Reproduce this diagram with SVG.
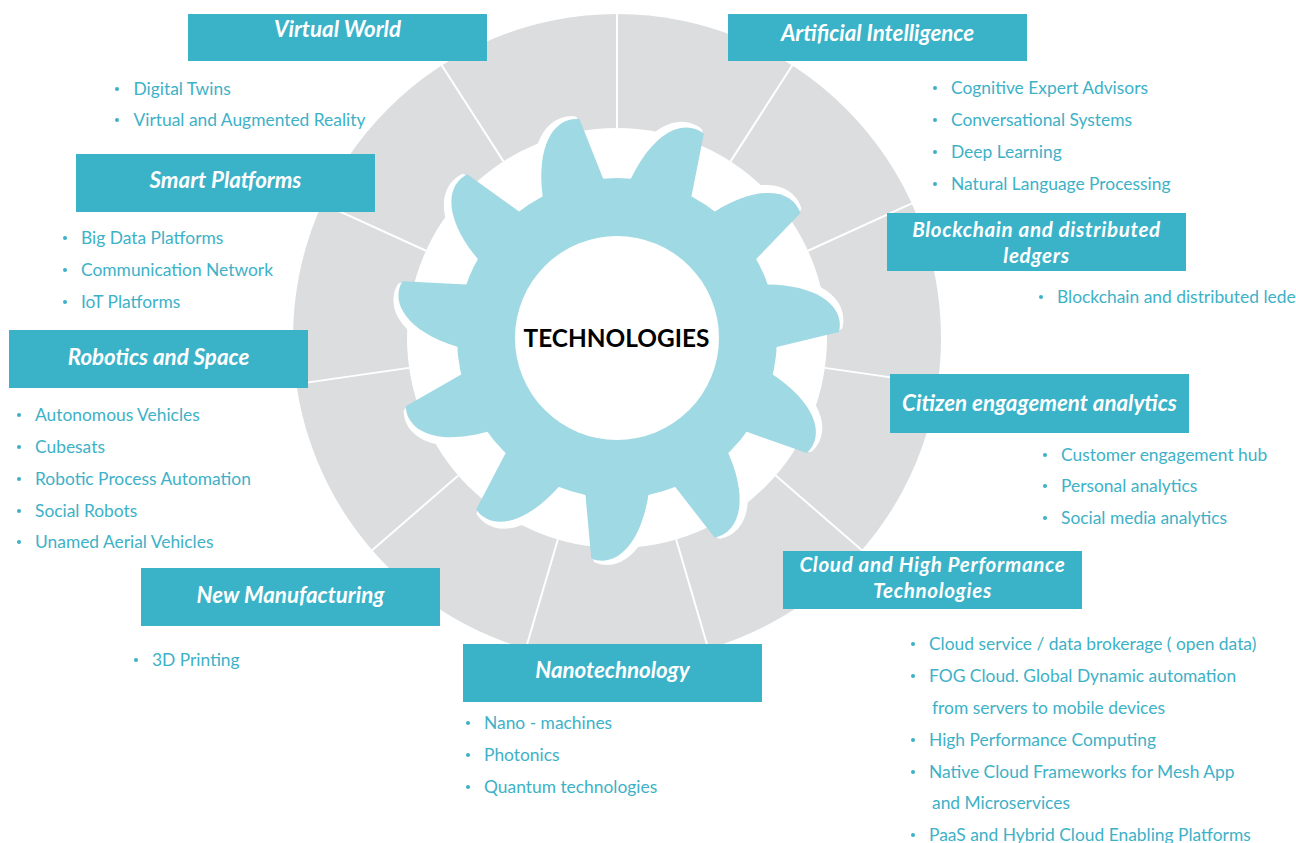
<svg xmlns="http://www.w3.org/2000/svg" xmlns:xlink="http://www.w3.org/1999/xlink" width="1296" height="843" viewBox="0 0 1296 843">
<style>
.box{fill:#3ab3c9}
.ttl{font-family:Lato,"Open Sans","Liberation Sans",sans-serif;font-weight:bold;font-style:italic;font-size:22.3px;fill:#ffffff;text-anchor:middle}
.ttl2{font-size:20.6px;letter-spacing:0.65px}
.itm{font-family:Lato,"Open Sans","Liberation Sans",sans-serif;font-size:17.4px;fill:#3db1c7}
.dot{fill:#3db1c7}
.spoke{stroke:#ffffff;stroke-width:2}
.gear{fill:#9fd9e3}
.halo{fill:#ffffff;stroke:#ffffff;stroke-width:8;stroke-linejoin:round}
</style>
<defs>
<path id="tooth" d="M160,0 C209.2,18.3 224.97,47.82 211.13,68.6 L147.61,61.75 L129.16,54.03 L140,0 Z"/>
<g id="gearShape">
<circle cx="0" cy="0" r="160"/>
<use xlink:href="#tooth" transform="rotate(-117.7)"/>
<use xlink:href="#tooth" transform="rotate(-84.97)"/>
<use xlink:href="#tooth" transform="rotate(-52.25)"/>
<use xlink:href="#tooth" transform="rotate(-19.52)"/>
<use xlink:href="#tooth" transform="rotate(13.21)"/>
<use xlink:href="#tooth" transform="rotate(45.94)"/>
<use xlink:href="#tooth" transform="rotate(78.66)"/>
<use xlink:href="#tooth" transform="rotate(111.39)"/>
<use xlink:href="#tooth" transform="rotate(144.12)"/>
<use xlink:href="#tooth" transform="rotate(176.84)"/>
<use xlink:href="#tooth" transform="rotate(209.57)"/>
</g>
</defs>
<rect width="1296" height="843" fill="#ffffff"/>
<g id="wheel">
<circle cx="617" cy="338" r="324" fill="#dcdddf"/>
<circle cx="617" cy="338" r="210" fill="#ffffff"/>
<g transform="translate(617,338)">
<line class="spoke" x1="210" y1="0" x2="326" y2="0" transform="rotate(-90)"/>
<line class="spoke" x1="210" y1="0" x2="326" y2="0" transform="rotate(-57.27)"/>
<line class="spoke" x1="210" y1="0" x2="326" y2="0" transform="rotate(-24.55)"/>
<line class="spoke" x1="210" y1="0" x2="326" y2="0" transform="rotate(8.18)"/>
<line class="spoke" x1="210" y1="0" x2="326" y2="0" transform="rotate(40.91)"/>
<line class="spoke" x1="210" y1="0" x2="326" y2="0" transform="rotate(73.64)"/>
<line class="spoke" x1="210" y1="0" x2="326" y2="0" transform="rotate(106.36)"/>
<line class="spoke" x1="210" y1="0" x2="326" y2="0" transform="rotate(139.09)"/>
<line class="spoke" x1="210" y1="0" x2="326" y2="0" transform="rotate(171.82)"/>
<line class="spoke" x1="210" y1="0" x2="326" y2="0" transform="rotate(204.55)"/>
<line class="spoke" x1="210" y1="0" x2="326" y2="0" transform="rotate(237.27)"/>
</g>
</g>
<g id="gear">
<use xlink:href="#gearShape" class="halo" transform="translate(617,338) rotate(-1.5)"/>
<use xlink:href="#gearShape" class="gear" transform="translate(617,338)"/>
<circle cx="617" cy="338" r="102" fill="#ffffff"/>
<text x="616.5" y="347" font-family="Lato,'Open Sans','Liberation Sans',sans-serif" font-weight="bold" font-size="24.4" fill="#000000" text-anchor="middle">TECHNOLOGIES</text>
</g>
<g id="connectors"></g>
<g id="virtual-world">
<rect class="box" x="188" y="14" width="299" height="47"/>
<text class="ttl" x="337.5" y="37">Virtual World</text>
<circle class="dot" cx="117" cy="89" r="2"/><text class="itm" x="133.5" y="95">Digital Twins</text>
<circle class="dot" cx="117" cy="120" r="2"/><text class="itm" x="133.5" y="126">Virtual and Augmented Reality</text>
</g>
<g id="artificial-intelligence">
<rect class="box" x="728" y="14" width="299" height="47"/>
<text class="ttl" x="877.5" y="41">Artificial Intelligence</text>
<circle class="dot" cx="935" cy="88" r="2"/><text class="itm" x="951" y="94">Cognitive Expert Advisors</text>
<circle class="dot" cx="935" cy="120" r="2"/><text class="itm" x="951" y="126">Conversational Systems</text>
<circle class="dot" cx="935" cy="152" r="2"/><text class="itm" x="951" y="158">Deep Learning</text>
<circle class="dot" cx="935" cy="184" r="2"/><text class="itm" x="951" y="190">Natural Language Processing</text>
</g>
<g id="smart-platforms">
<rect class="box" x="76" y="154" width="299" height="58"/>
<text class="ttl" x="225.5" y="188">Smart Platforms</text>
<circle class="dot" cx="65" cy="238" r="2"/><text class="itm" x="81" y="244">Big Data Platforms</text>
<circle class="dot" cx="65" cy="270" r="2"/><text class="itm" x="81" y="276">Communication Network</text>
<circle class="dot" cx="65" cy="302" r="2"/><text class="itm" x="81" y="308">IoT Platforms</text>
</g>
<g id="blockchain">
<rect class="box" x="887" y="213" width="299" height="58"/>
<text class="ttl ttl2" x="1036.5" y="237">Blockchain and distributed</text>
<text class="ttl ttl2" x="1036.5" y="262.5">ledgers</text>
<circle class="dot" cx="1041" cy="297" r="2"/><text class="itm" x="1057" y="303">Blockchain and distributed lede</text>
</g>
<g id="robotics-space">
<rect class="box" x="9" y="330" width="299" height="58"/>
<text class="ttl" x="158.5" y="365">Robotics and Space</text>
<circle class="dot" cx="19" cy="415" r="2"/><text class="itm" x="35" y="421">Autonomous Vehicles</text>
<circle class="dot" cx="19" cy="447" r="2"/><text class="itm" x="35" y="453">Cubesats</text>
<circle class="dot" cx="19" cy="479" r="2"/><text class="itm" x="35" y="485">Robotic Process Automation</text>
<circle class="dot" cx="19" cy="511" r="2"/><text class="itm" x="35" y="517">Social Robots</text>
<circle class="dot" cx="19" cy="542" r="2"/><text class="itm" x="35" y="548">Unamed Aerial Vehicles</text>
</g>
<g id="citizen-engagement">
<rect class="box" x="890" y="374" width="299" height="59"/>
<text class="ttl" x="1039.5" y="411">Citizen engagement analytics</text>
<circle class="dot" cx="1045" cy="455" r="2"/><text class="itm" x="1061" y="461">Customer engagement hub</text>
<circle class="dot" cx="1045" cy="486" r="2"/><text class="itm" x="1061" y="492">Personal analytics</text>
<circle class="dot" cx="1045" cy="518" r="2"/><text class="itm" x="1061" y="524">Social media analytics</text>
</g>
<g id="new-manufacturing">
<rect class="box" x="141" y="568" width="299" height="58"/>
<text class="ttl" x="290.5" y="603">New Manufacturing</text>
<circle class="dot" cx="136" cy="660" r="2"/><text class="itm" x="152" y="666">3D Printing</text>
</g>
<g id="cloud-hpc">
<rect class="box" x="783" y="551" width="299" height="58"/>
<text class="ttl ttl2" x="932.5" y="572">Cloud and High Performance</text>
<text class="ttl ttl2" x="932.5" y="597.5">Technologies</text>
<circle class="dot" cx="913" cy="644" r="2"/><text class="itm" x="929" y="650">Cloud service / data brokerage ( open data)</text>
<circle class="dot" cx="913" cy="676" r="2"/><text class="itm" x="929" y="682">FOG Cloud. Global Dynamic automation</text>
<text class="itm" x="932" y="714">from servers to mobile devices</text>
<circle class="dot" cx="913" cy="740" r="2"/><text class="itm" x="929" y="746">High Performance Computing</text>
<circle class="dot" cx="913" cy="772" r="2"/><text class="itm" x="929" y="778">Native Cloud Frameworks for Mesh App</text>
<text class="itm" x="932" y="809">and Microservices</text>
<circle class="dot" cx="913" cy="835" r="2"/><text class="itm" x="929" y="841">PaaS and Hybrid Cloud Enabling Platforms</text>
</g>
<g id="nanotechnology">
<rect class="box" x="463" y="644" width="299" height="58"/>
<text class="ttl" x="612.5" y="678">Nanotechnology</text>
<circle class="dot" cx="468" cy="723" r="2"/><text class="itm" x="484" y="729">Nano - machines</text>
<circle class="dot" cx="468" cy="755" r="2"/><text class="itm" x="484" y="761">Photonics</text>
<circle class="dot" cx="468" cy="787" r="2"/><text class="itm" x="484" y="793">Quantum technologies</text>
</g>
</svg>
